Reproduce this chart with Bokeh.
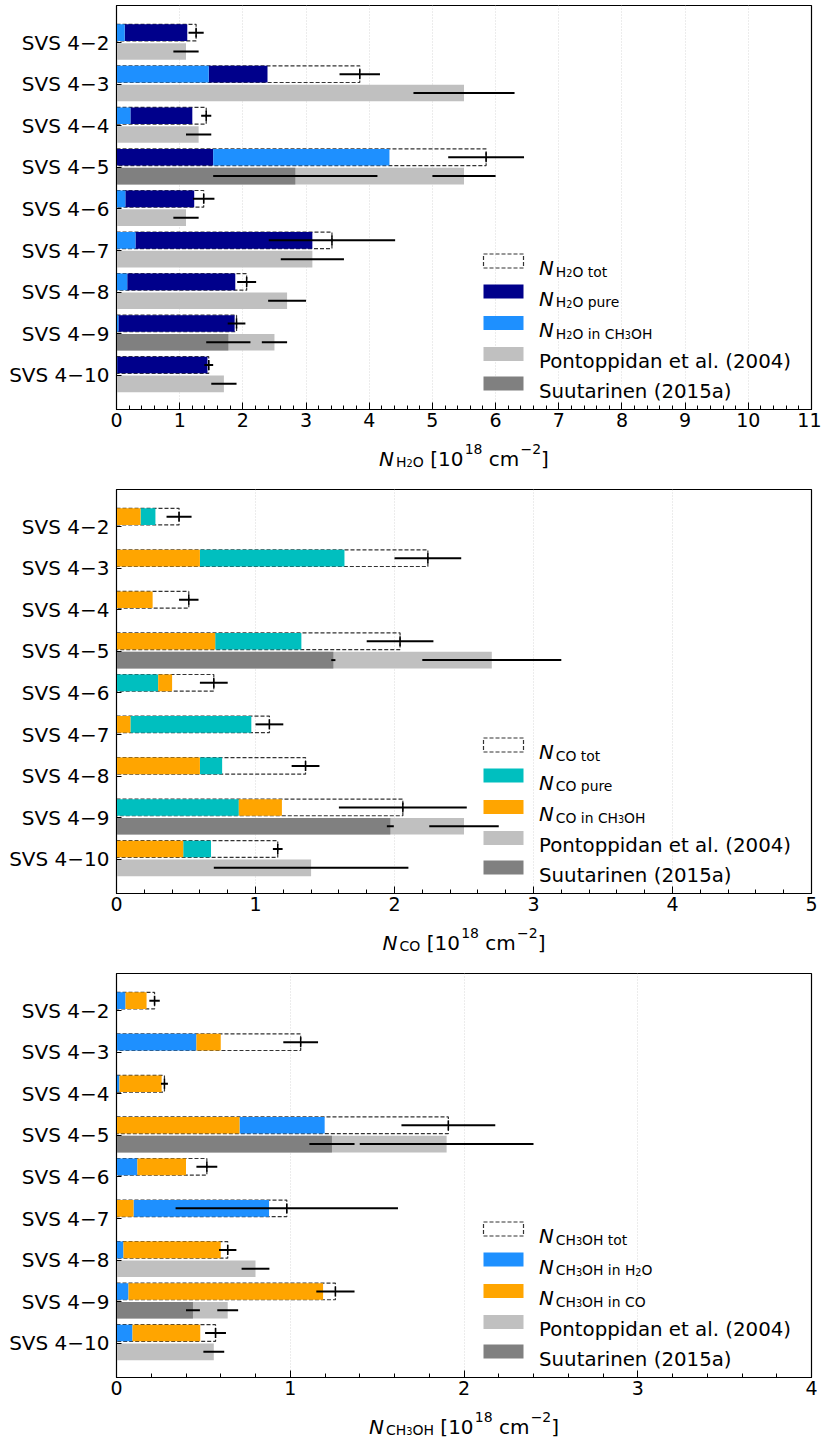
from bokeh.plotting import figure
from bokeh.models import Range1d, FixedTicker, SingleIntervalTicker, Label
from bokeh.layouts import column
from bokeh.embed import file_html
from bokeh.resources import INLINE

# ---------------- data ----------------
sources = ["SVS 4\u22122", "SVS 4\u22123", "SVS 4\u22124", "SVS 4\u22125", "SVS 4\u22126",
           "SVS 4\u22127", "SVS 4\u22128", "SVS 4\u22129", "SVS 4\u221210"]

# H2O  [1e18 cm^-2]
h2o_pure = [0.99, 0.93, 0.98, 1.53, 1.09, 2.80, 1.71, 1.84, 1.43]
h2o_in_ch3oh = [0.13, 1.46, 0.22, 2.79, 0.14, 0.30, 0.17, 0.03, 0.01]
h2o_first = ["b", "b", "b", "a", "b", "b", "b", "b", "b"]   # a = pure first, b = in CH3OH first
h2o_tot = [1.26, 3.85, 1.42, 5.85, 1.38, 3.41, 2.06, 1.90, 1.46]
h2o_tot_err = [0.12, 0.32, 0.08, 0.60, 0.17, 1.00, 0.15, 0.14, 0.07]
h2o_pont = [1.1, 5.5, 1.3, 5.5, 1.1, 3.1, 2.7, 2.5, 1.7]
h2o_pont_err = [0.2, 0.8, 0.2, 0.5, 0.2, 0.5, 0.3, 0.2, 0.2]
h2o_suut = [None, None, None, 2.83, None, None, None, 1.77, None]
h2o_suut_err = [None, None, None, 1.3, None, None, None, 0.35, None]

# CO
co_pure = [0.107, 1.04, 0.0, 0.62, 0.30, 0.87, 0.16, 0.88, 0.20]
co_in_ch3oh = [0.173, 0.60, 0.26, 0.71, 0.10, 0.10, 0.60, 0.31, 0.48]
co_first = ["b", "b", "b", "b", "a", "b", "b", "a", "b"]    # a = pure first, b = in CH3OH first
co_tot = [0.45, 2.24, 0.52, 2.04, 0.70, 1.10, 1.36, 2.06, 1.16]
co_tot_err = [0.09, 0.24, 0.07, 0.24, 0.10, 0.10, 0.10, 0.46, 0.035]
co_pont = [None, None, None, 2.7, None, None, None, 2.5, 1.4]
co_pont_err = [None, None, None, 0.5, None, None, None, 0.25, 0.7]
co_suut = [None, None, None, 1.56, None, None, None, 1.97, None]
co_suut_err = [None, None, None, 0.015, None, None, None, 0.025, None]

# CH3OH
ch3oh_in_h2o = [0.052, 0.46, 0.017, 0.49, 0.12, 0.78, 0.04, 0.069, 0.092]
ch3oh_in_co = [0.121, 0.14, 0.243, 0.708, 0.28, 0.098, 0.56, 1.12, 0.39]
ch3oh_first = ["a", "a", "a", "b", "a", "b", "a", "a", "a"]  # a = in H2O first, b = in CO first
ch3oh_tot = [0.219, 1.06, 0.276, 1.91, 0.52, 0.98, 0.64, 1.26, 0.57]
ch3oh_tot_err = [0.03, 0.10, 0.02, 0.27, 0.06, 0.64, 0.05, 0.11, 0.06]
ch3oh_pont = [None, None, None, 1.90, None, None, 0.80, 0.64, 0.56]
ch3oh_pont_err = [None, None, None, 0.5, None, None, 0.08, 0.06, 0.06]
ch3oh_suut = [None, None, None, 1.24, None, None, None, 0.44, None]
ch3oh_suut_err = [None, None, None, 0.13, None, None, None, 0.04, None]

# ---------------- style ----------------
NAVY = "#00008B"
DODGER = "#1E90FF"
TEAL = "#00BFBF"
ORANGE = "#FFA500"
PONT = "#C0C0C0"
SUUT = "#808080"
FONT = "DejaVu Sans"

PW = 821          # figure width
FL = 116          # frame left
FW = 695          # frame width (px)
FR = PW - FL - FW
FH = 404          # frame height (px)
BOT = 25          # bottom border for tick labels
Y_TOP = -0.898
Y_BOT = 8.826
UP = -0.245       # upper bar offset
LO = 0.208        # lower bar offset
BH = 0.40         # bar height

# DejaVu Sans advance widths (units of 2048)
ADV = {' ': 651, '(': 799, ')': 799, '.': 651, '[': 799, ']': 799, '\u2212': 1716,
       'C': 1430, 'H': 1540, 'O': 1612, 'N': 1532, 'P': 1235, 'S': 1300,
       'a': 1255, 'c': 1126, 'd': 1300, 'e': 1260, 'i': 569, 'l': 569, 'm': 1995,
       'n': 1298, 'o': 1253, 'p': 1300, 'r': 842, 's': 1067, 't': 803, 'u': 1298}


def tw(s, size):
    return sum(ADV.get(ch, 1303) for ch in s) / 2048.0 * size


SIZE = {0: 1.0, 1: 0.7, 2: 0.49, 3: 0.7}
DROP = {0: 0.0, 1: 0.16, 2: 0.24, 3: -0.5}
GAP = {0: 0.0, 1: 0.1, 2: 0.0, 3: 0.06}


def sub_pieces(sub):
    runs = []
    for ch in sub:
        lvl = 2 if ch.isdigit() else 1
        if runs and runs[-1][1] == lvl:
            runs[-1][0] += ch
        else:
            runs.append([ch, lvl])
    return [(t, l, False) for t, l in runs]


def n_pieces(sub):
    return [("N", 0, True)] + sub_pieces(sub)


def axis_pieces(sub):
    return n_pieces(sub) + [(" [10", 0, False), ("18", 3, False), (" cm", 0, False),
                            ("\u22122", 3, False), ("]", 0, False)]


def layout_pieces(pieces, F):
    out = []
    x = 0.0
    prev = 0
    for text, lvl, italic in pieces:
        size = F * SIZE[lvl]
        if lvl != prev and lvl in (1, 3) and prev == 0:
            x += GAP[lvl] * F
        lead = len(text) - len(text.lstrip(" "))
        x += tw(" " * lead, size)
        body = text.strip(" ")
        out.append((x, body, size, F * DROP[lvl], italic))
        x += tw(body, size)
        prev = lvl
    return out, x


def rich(p, to_data, x_px, base_px, pieces, F):
    items, _ = layout_pieces(pieces, F)
    for dx, body, size, drop, italic in items:
        xd, yd = to_data(x_px + dx, base_px + drop)
        p.add_layout(Label(x=xd, y=yd, text=body, text_font=FONT,
                           text_font_size="%.1fpx" % size,
                           text_font_style="italic" if italic else "normal",
                           text_baseline="alphabetic", text_align="left",
                           text_color="black"))


def make_panel(xmax, top, a_vals, b_vals, first, col_a, col_b, tot, tot_err,
               pont, pont_err, suut, suut_err, legend):
    height = top + FH + BOT
    p = figure(width=PW, height=height, x_range=Range1d(0, xmax),
               y_range=Range1d(Y_BOT, Y_TOP), output_backend="svg",
               toolbar_location=None, min_border_left=FL, min_border_right=FR,
               min_border_top=top, min_border_bottom=BOT)
    p.background_fill_color = "white"
    p.border_fill_color = "white"
    p.outline_line_color = "black"
    p.outline_line_width = 1.2

    def to_data(xp, yp):
        return xp / FW * xmax, Y_TOP + yp / FH * (Y_BOT - Y_TOP)

    n = len(sources)
    ys = list(range(n))
    yu = [y + UP for y in ys]
    yl = [y + LO for y in ys]

    # total (dashed box)
    p.hbar(y=yu, left=0, right=tot, height=BH, fill_color=None,
           line_color="#333333", line_dash="4 2", line_width=1.2)
    # stacked components
    la = [0 if f == "a" else b for f, b in zip(first, b_vals)]
    lb = [a if f == "a" else 0 for f, a in zip(first, a_vals)]
    p.hbar(y=yu, left=la, right=[l + a for l, a in zip(la, a_vals)], height=BH,
           fill_color=col_a, line_color=None)
    p.hbar(y=yu, left=lb, right=[l + b for l, b in zip(lb, b_vals)], height=BH,
           fill_color=col_b, line_color=None)

    # literature bars
    ip = [i for i in range(n) if pont[i] is not None]
    isu = [i for i in range(n) if suut[i] is not None]
    if ip:
        p.hbar(y=[yl[i] for i in ip], left=0, right=[pont[i] for i in ip], height=BH,
               fill_color=PONT, line_color=None)
    if isu:
        p.hbar(y=[yl[i] for i in isu], left=0, right=[suut[i] for i in isu], height=BH,
               fill_color=SUUT, line_color=None)

    # error bars
    p.segment(x0=[t - e for t, e in zip(tot, tot_err)], x1=[t + e for t, e in zip(tot, tot_err)],
              y0=yu, y1=yu, line_color="black", line_width=2)
    p.segment(x0=tot, x1=tot, y0=[y - 0.12 for y in yu], y1=[y + 0.12 for y in yu],
              line_color="black", line_width=1.5)
    if ip:
        p.segment(x0=[pont[i] - pont_err[i] for i in ip], x1=[pont[i] + pont_err[i] for i in ip],
                  y0=[yl[i] for i in ip], y1=[yl[i] for i in ip], line_color="black", line_width=2)
    if isu:
        p.segment(x0=[suut[i] - suut_err[i] for i in isu], x1=[suut[i] + suut_err[i] for i in isu],
                  y0=[yl[i] for i in isu], y1=[yl[i] for i in isu], line_color="black", line_width=2)

    # axes
    p.xaxis.ticker = SingleIntervalTicker(interval=1, num_minor_ticks=5)
    p.xgrid.ticker = SingleIntervalTicker(interval=1)
    p.xgrid.grid_line_color = "#d9d9d9"
    p.xgrid.grid_line_dash = "1 2"
    p.ygrid.grid_line_color = None
    p.yaxis.ticker = FixedTicker(ticks=ys)
    p.yaxis.major_label_overrides = {i: s for i, s in enumerate(sources)}
    for ax in (p.xaxis[0], p.yaxis[0]):
        ax.axis_line_color = "black"
        ax.major_tick_line_color = "black"
        ax.minor_tick_line_color = "black"
        ax.major_tick_out = 0
        ax.minor_tick_out = 0
        ax.major_label_text_font = FONT
        ax.major_label_text_color = "black"
    p.xaxis.major_label_text_font_size = "19px"
    p.yaxis.major_label_text_font_size = "20px"
    p.xaxis.major_tick_in = 7
    p.xaxis.minor_tick_in = 4
    p.xaxis.major_label_standoff = 3
    p.yaxis.major_tick_in = 5
    p.yaxis.minor_tick_line_color = None
    p.yaxis.major_label_standoff = 7

    # legend
    rows = [255.5, 286.0, 317.5, 348.5, 378.0]
    sx0, sx1, sh = 367.0, 407.0, 14.0
    for (kind, color, pieces), yc in zip(legend, rows):
        l, t = to_data(sx0, yc - sh / 2)
        r, b = to_data(sx1, yc + sh / 2)
        if kind == "box":
            p.quad(left=[l], right=[r], top=[t], bottom=[b], fill_color=None,
                   line_color="#333333", line_dash="4 2", line_width=1.2)
        else:
            p.quad(left=[l], right=[r], top=[t], bottom=[b], fill_color=color, line_color=None)
        rich(p, to_data, 422.5, yc + 7.5, pieces, 19.8)
    return p


def label_strip(height, baseline, axis_sub, F=20.0):
    # frame aligned with the panels' frames (116..811); data units = pixels
    s = figure(width=PW, height=height, x_range=Range1d(0, FW), y_range=Range1d(height, 0),
               output_backend="svg", toolbar_location=None, x_axis_type=None, y_axis_type=None,
               min_border_left=FL, min_border_right=FR, min_border_top=0, min_border_bottom=0)
    s.outline_line_color = None
    s.background_fill_color = "white"
    s.border_fill_color = "white"
    pieces = axis_pieces(axis_sub)
    _, w = layout_pieces(pieces, F)
    x0 = FW / 2.0 - w / 2.0
    rich(s, lambda xp, yp: (xp, yp), x0, baseline, pieces, F)
    return s


lit = [("fill", PONT, [("Pontoppidan et al. (2004)", 0, False)]),
       ("fill", SUUT, [("Suutarinen (2015a)", 0, False)])]

p1 = make_panel(11, 5, h2o_pure, h2o_in_ch3oh, h2o_first, NAVY, DODGER,
                h2o_tot, h2o_tot_err, h2o_pont, h2o_pont_err, h2o_suut, h2o_suut_err,
                [("box", None, n_pieces("H2O tot")),
                 ("fill", NAVY, n_pieces("H2O pure")),
                 ("fill", DODGER, n_pieces("H2O in CH3OH"))] + lit)
s1 = label_strip(54, 24, "H2O")

p2 = make_panel(5, 1, co_pure, co_in_ch3oh, co_first, TEAL, ORANGE,
                co_tot, co_tot_err, co_pont, co_pont_err, co_suut, co_suut_err,
                [("box", None, n_pieces("CO tot")),
                 ("fill", TEAL, n_pieces("CO pure")),
                 ("fill", ORANGE, n_pieces("CO in CH3OH"))] + lit)
s2 = label_strip(54, 24, "CO")

p3 = make_panel(4, 1, ch3oh_in_h2o, ch3oh_in_co, ch3oh_first, DODGER, ORANGE,
                ch3oh_tot, ch3oh_tot_err, ch3oh_pont, ch3oh_pont_err, ch3oh_suut, ch3oh_suut_err,
                [("box", None, n_pieces("CH3OH tot")),
                 ("fill", DODGER, n_pieces("CH3OH in H2O")),
                 ("fill", ORANGE, n_pieces("CH3OH in CO"))] + lit)
s3 = label_strip(40, 24, "CH3OH")

layout = column(p1, s1, p2, s2, p3, s3, spacing=0)
open("out.html", "w").write(file_html(layout, INLINE))
